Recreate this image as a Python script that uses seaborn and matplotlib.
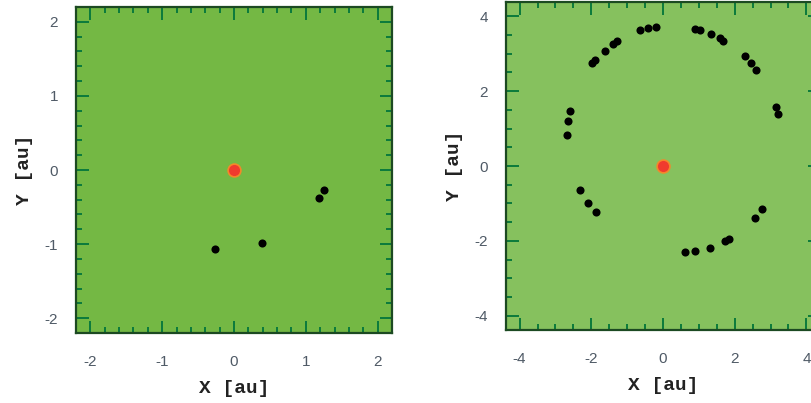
import numpy as np
import pandas as pd
import matplotlib
matplotlib.use("Agg")
import matplotlib.pyplot as plt
import seaborn as sns
from matplotlib.ticker import MultipleLocator

# left panel: inner planets
left_x = [-0.26, 0.39, 1.18, 1.25]
left_y = [-1.06, -0.99, -0.38, -0.27]

# right panel: outer ring of bodies
right_x = [-1.99, -1.90, -1.62, -1.39, -1.28, -0.65, -0.42, -0.20,
           0.88, 1.04, 1.33, 1.58, 1.67, 2.29, 2.46, 2.60, 3.16, 3.22,
           -2.60, -2.65, -2.69, -2.32, -2.09, -1.88,
           0.62, 0.88, 1.30, 1.74, 1.84, 2.57, 2.76]
right_y = [2.75, 2.84, 3.08, 3.26, 3.34, 3.62, 3.68, 3.72,
           3.67, 3.62, 3.53, 3.41, 3.35, 2.93, 2.75, 2.57, 1.58, 1.40,
           1.46, 1.20, 0.84, -0.65, -0.99, -1.23,
           -2.31, -2.28, -2.18, -2.00, -1.94, -1.38, -1.15]

star_x = [0.0]
star_y = [0.0]

sns.set_theme(style="ticks")
plt.rcParams["font.family"] = ["Liberation Sans", "DejaVu Sans"]
plt.rcParams["axes.unicode_minus"] = False

fig = plt.figure(figsize=(8.12, 4.03), dpi=100)
ax1 = fig.add_axes([76 / 812, 70 / 403, 316 / 812, 326 / 403])
ax2 = fig.add_axes([506 / 812, 73 / 403, 314 / 812, 328 / 403])

TICK_C = "#0b7a3c"
LABEL_C = "#4f5a66"


def style(ax, face, lim, major, minor):
    ax.set_facecolor(face)
    ax.set_xlim(-lim, lim)
    ax.set_ylim(-lim, lim)
    ax.xaxis.set_major_locator(MultipleLocator(major))
    ax.yaxis.set_major_locator(MultipleLocator(major))
    ax.xaxis.set_minor_locator(MultipleLocator(minor))
    ax.yaxis.set_minor_locator(MultipleLocator(minor))
    ax.tick_params(which="both", direction="in", top=True, right=True,
                   color=TICK_C, width=1.4, labelcolor=LABEL_C,
                   labelsize=11)
    ax.tick_params(which="major", length=9)
    ax.tick_params(axis="x", which="major", pad=16)
    ax.tick_params(axis="y", which="major", pad=13)
    ax.tick_params(which="minor", length=4.5)
    for s in ax.spines.values():
        s.set_color("#1c4a22")
        s.set_linewidth(1.6)
    ax.set_xlabel("X [au]", fontsize=14, fontweight="bold",
                  family="Liberation Mono", color="#222222", labelpad=8)
    ax.set_ylabel("Y [au]", fontsize=14, fontweight="bold",
                  family="Liberation Mono", color="#222222", labelpad=8)


for ax, xs, ys in [(ax1, left_x, left_y), (ax2, right_x, right_y)]:
    df = pd.DataFrame({"x": xs, "y": ys})
    sns.scatterplot(data=df, x="x", y="y", ax=ax, color="black", s=34,
                    edgecolor="black", linewidth=0, zorder=3)
    sns.scatterplot(x=star_x, y=star_y, ax=ax, color="#f03a2e", s=85,
                    edgecolor="#f4872a", linewidth=1.2, zorder=4)

style(ax1, "#74b844", 2.2, 1, 0.2)
style(ax2, "#86c15e", 4.38, 2, 0.5)

fig.savefig("out.png", dpi=100)
